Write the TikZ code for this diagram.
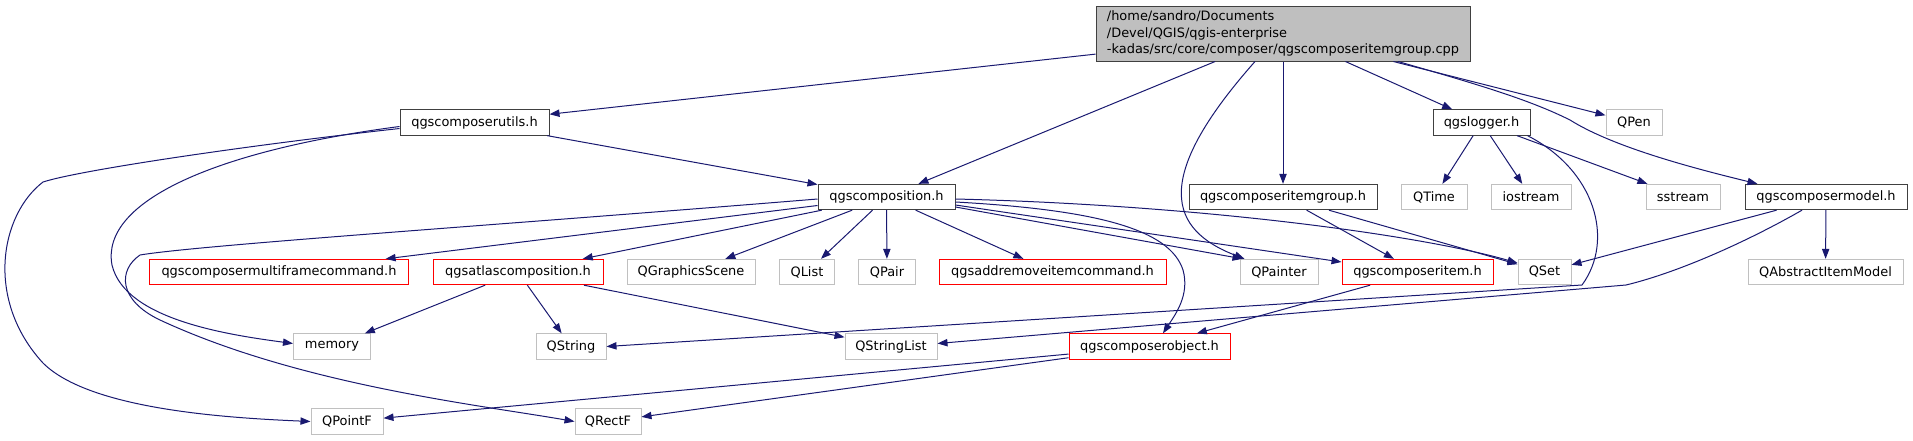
\documentclass[tikz,border=0pt]{standalone}
\usepackage{fontspec}
\setmainfont{DejaVu Sans}
\usetikzlibrary{arrows.meta,calc}

\definecolor{edgeblue}{HTML}{191970}
\definecolor{rootgray}{HTML}{BFBFBF}
\definecolor{extgray}{HTML}{C0C0C0}
\definecolor{boxline}{HTML}{404040}

\tikzset{
  file/.style={draw=boxline, fill=white, line width=0.75pt, minimum height=19pt,
    inner xsep=0pt, inner ysep=0pt, font=\fontsize{9.7}{12.4}\selectfont},
  redfile/.style={file, draw=red},
  extfile/.style={file, draw=extgray},
  boxw/.style={minimum width=#1*0.75pt},
  dep/.style={draw=edgeblue, line width=0.75pt, -{Triangle[length=7.5pt,width=5.5pt]}}
}

\begin{document}
\begin{tikzpicture}[x=0.75pt, y=-0.75pt]

   \useasboundingbox (0,0) rectangle (1913,440);

   \node[file, fill=rootgray, boxw=374, minimum height=41.25pt, align=left] (root) at (1283,33.5)
      {/home/sandro/Documents\\/Devel/QGIS/qgis-enterprise\\-kadas/src/core/composer/qgscomposeritemgroup.cpp};

   \node[file, boxw=149] (utils) at (474.5,122.5) {qgscomposerutils.h};
   \node[file, boxw=97] (logger) at (1481.5,122.5) {qgslogger.h};
   \node[extfile, boxw=56] (qpen) at (1634,122.5) {QPen};

   \node[file, boxw=137] (comp) at (886.5,197) {qgscomposition.h};
   \node[file, boxw=188] (itemgroup) at (1283,197) {qgscomposeritemgroup.h};
   \node[extfile, boxw=66] (qtime) at (1434,197) {QTime};
   \node[extfile, boxw=80] (iostream) at (1531,197) {iostream};
   \node[extfile, boxw=74] (sstream) at (1683,197) {sstream};
   \node[file, boxw=162] (model) at (1826,197) {qgscomposermodel.h};

   \node[redfile, boxw=259] (multiframe) at (279,272) {qgscomposermultiframecommand.h};
   \node[redfile, boxw=170] (atlas) at (518,272) {qgsatlascomposition.h};
   \node[extfile, boxw=128] (gscene) at (691,272) {QGraphicsScene};
   \node[extfile, boxw=55] (qlist) at (807,272) {QList};
   \node[extfile, boxw=57] (qpair) at (887,272) {QPair};
   \node[redfile, boxw=227] (addremove) at (1052.5,272) {qgsaddremoveitemcommand.h};
   \node[extfile, boxw=78] (qpainter) at (1279,272) {QPainter};
   \node[redfile, boxw=151] (item) at (1417.5,272) {qgscomposeritem.h};
   \node[extfile, boxw=53] (qset) at (1544.5,272) {QSet};
   \node[extfile, boxw=155] (absmodel) at (1825.5,272) {QAbstractItemModel};

   \node[extfile, boxw=77] (memory) at (332,346.5) {memory};
   \node[extfile, boxw=70] (qstring) at (571,346.5) {QString};
   \node[extfile, boxw=92] (qstringlist) at (891,346.5) {QStringList};
   \node[redfile, boxw=161] (object) at (1149.5,346.5) {qgscomposerobject.h};

   \node[extfile, boxw=72] (qpointf) at (347,421.5) {QPointF};
   \node[extfile, boxw=66] (qrectf) at (608,421.5) {QRectF};

   \draw[dep] (root) -- (utils);
   \draw[dep] (root) -- (comp);
   \draw[dep] (root) -- (itemgroup);
   \draw[dep] (root) -- (logger);
   \draw[dep] (root) -- (qpen);
   \draw[dep] ($(root.south)+(115,0)$) .. controls (1480,85) and (1530,100) .. (1570,120)
      .. controls (1610,145) and (1680,165) .. ($(model.north west)+(13,0)$);
   \draw[dep] ($(root.south)+(-28,0)$) .. controls (1150,180) and (1170,230) .. ($(qpainter.north west)+(5,0)$);

   \draw[dep] (utils) -- (comp);
   \draw[dep] ($(utils.west)+(0,6)$) .. controls (250,145) and (80,170) .. (43,182)
      .. controls (0,215) and (-15,300) .. (43,363) .. controls (90,410) and (230,418) .. (qpointf.west);
   \draw[dep] ($(utils.west)+(0,4)$) .. controls (220,150) and (100,200) .. (112,265)
      .. controls (125,320) and (230,335) .. ($(memory.west)+(0,-3)$);

   \draw[dep] (comp) -- (multiframe);
   \draw[dep] (comp) -- (atlas);
   \draw[dep] ($(comp.west)+(0,2)$) .. controls (500,225) and (200,245) .. (140,255)
      .. controls (118,270) and (118,300) .. (160,320) .. controls (300,385) and (480,405) .. (qrectf.west);
   \draw[dep] (comp) -- (gscene);
   \draw[dep] (comp) -- (qlist);
   \draw[dep] (comp) -- (qpair);
   \draw[dep] (comp) -- (addremove);
   \draw[dep] ($(comp.east)+(0,10)$) -- ($(qpainter.north west)+(3,0)$);
   \draw[dep] ($(comp.east)+(0,8)$) -- ($(item.west)+(0,-10)$);
   \draw[dep] ($(comp.east)+(0,2)$) .. controls (1200,205) and (1420,235) .. ($(qset.west)+(0,-9)$);
   \draw[dep] ($(comp.east)+(0,5)$) .. controls (1100,210) and (1170,230) .. (1183,270)
      .. controls (1190,295) and (1175,315) .. ($(object.north)+(13.5,0)$);

   \draw[dep] (itemgroup) -- (item);
   \draw[dep] (itemgroup) -- (qset);

   \draw[dep] (logger) -- (qtime);
   \draw[dep] (logger) -- (iostream);
   \draw[dep] (logger) -- (sstream);
   \draw[dep] ($(logger.south east)+(-3,0)$) .. controls (1595,170) and (1615,240) .. (1582,285) -- (qstring.east);

   \draw[dep] (model) -- (qset);
   \draw[dep] (model) -- (absmodel);
   \draw[dep] ($(model.south)+(-24,0)$) .. controls (1750,240) and (1680,272) .. (1626,285) -- ($(qstringlist.east)+(0,-3)$);

   \draw[dep] (item) -- (object);
   \draw[dep] (atlas) -- (memory);
   \draw[dep] (atlas) -- (qstring);
   \draw[dep] (atlas) -- (qstringlist);
   \draw[dep] (object) -- (qpointf);
   \draw[dep] (object) -- (qrectf);

\end{tikzpicture}
\end{document}
